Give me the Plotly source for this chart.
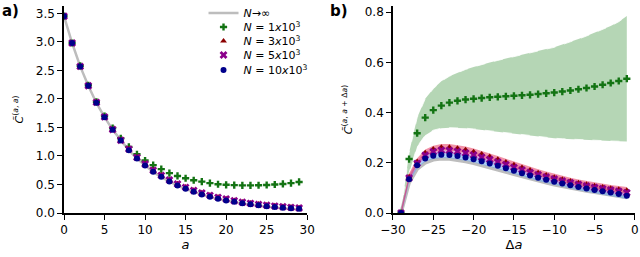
import plotly.graph_objects as go

# ---------------- data ----------------
a_vals = list(range(0, 30))
c_inf_a = [3.45, 2.98, 2.57, 2.23, 1.93, 1.68, 1.46, 1.27, 1.10, 0.955, 0.83, 0.72, 0.63, 0.55, 0.48,
           0.42, 0.37, 0.32, 0.28, 0.245, 0.215, 0.19, 0.165, 0.145, 0.128, 0.112, 0.098, 0.086, 0.076, 0.067]
c_1k_a = [3.45, 2.98, 2.58, 2.24, 1.95, 1.70, 1.49, 1.31, 1.16, 1.03, 0.92, 0.84, 0.77, 0.70, 0.65,
          0.61, 0.575, 0.55, 0.525, 0.505, 0.495, 0.49, 0.485, 0.485, 0.487, 0.492, 0.50, 0.51, 0.525, 0.545]
c_3k_a = [3.45, 2.98, 2.57, 2.23, 1.94, 1.685, 1.465, 1.28, 1.125, 0.98, 0.865, 0.755, 0.665, 0.585, 0.515,
          0.455, 0.40, 0.355, 0.315, 0.28, 0.25, 0.22, 0.195, 0.175, 0.157, 0.141, 0.127, 0.115, 0.104, 0.095]
c_5k_a = [3.45, 2.98, 2.57, 2.23, 1.94, 1.685, 1.465, 1.275, 1.12, 0.975, 0.86, 0.75, 0.66, 0.58, 0.51,
          0.45, 0.395, 0.35, 0.31, 0.275, 0.245, 0.215, 0.19, 0.17, 0.152, 0.136, 0.122, 0.11, 0.099, 0.09]
c_10k_a = [3.45, 2.98, 2.57, 2.23, 1.935, 1.68, 1.46, 1.27, 1.10, 0.955, 0.835, 0.725, 0.635, 0.555, 0.485,
           0.425, 0.372, 0.327, 0.287, 0.252, 0.222, 0.196, 0.173, 0.153, 0.135, 0.12, 0.106, 0.094, 0.083, 0.074]

da_vals = list(range(-29, 0))
c_inf_b = [0, 0.12, 0.175, 0.2, 0.212, 0.216, 0.215, 0.211, 0.205, 0.198, 0.19, 0.181, 0.172, 0.163, 0.154,
           0.145, 0.136, 0.128, 0.12, 0.113, 0.106, 0.1, 0.094, 0.088, 0.083, 0.078, 0.073, 0.068, 0.062]
c_1k_b = [0, 0.215, 0.318, 0.38, 0.41, 0.428, 0.44, 0.447, 0.452, 0.455, 0.458, 0.461, 0.463, 0.465, 0.467,
          0.469, 0.471, 0.474, 0.477, 0.480, 0.484, 0.488, 0.493, 0.498, 0.504, 0.511, 0.518, 0.526, 0.535]
c_1k_b_hi = [0, 0.24, 0.38, 0.455, 0.495, 0.525, 0.545, 0.56, 0.572, 0.582, 0.592, 0.60, 0.608, 0.616, 0.624,
             0.632, 0.639, 0.646, 0.653, 0.660, 0.670, 0.681, 0.693, 0.705, 0.718, 0.731, 0.745, 0.762, 0.785]
c_1k_b_lo = [0, 0.16, 0.265, 0.31, 0.33, 0.338, 0.34, 0.34, 0.338, 0.335, 0.331, 0.327, 0.323, 0.319, 0.315,
             0.311, 0.307, 0.304, 0.301, 0.298, 0.296, 0.294, 0.292, 0.290, 0.289, 0.288, 0.287, 0.286, 0.285]
c_3k_b = [0, 0.145, 0.205, 0.240, 0.255, 0.262, 0.262, 0.258, 0.252, 0.244, 0.235, 0.225, 0.214, 0.203, 0.192,
          0.181, 0.171, 0.161, 0.152, 0.143, 0.135, 0.128, 0.121, 0.115, 0.109, 0.104, 0.099, 0.095, 0.091]
c_5k_b = [0, 0.14, 0.198, 0.23, 0.244, 0.25, 0.249, 0.245, 0.239, 0.231, 0.222, 0.213, 0.203, 0.193, 0.182,
          0.172, 0.162, 0.153, 0.144, 0.136, 0.128, 0.121, 0.114, 0.108, 0.102, 0.097, 0.092, 0.087, 0.081]
c_10k_b = [0, 0.135, 0.19, 0.217, 0.228, 0.232, 0.231, 0.227, 0.221, 0.214, 0.206, 0.197, 0.188, 0.178, 0.168,
           0.159, 0.150, 0.141, 0.133, 0.125, 0.118, 0.111, 0.104, 0.098, 0.092, 0.087, 0.082, 0.076, 0.069]
band_halfwidth_b = 0.013

x_ticks_a = [0, 5, 10, 15, 20, 25, 30]
y_ticks_a = [0.0, 0.5, 1.0, 1.5, 2.0, 2.5, 3.0, 3.5]
x_ticks_b = [-30, -25, -20, -15, -10, -5, 0]
y_ticks_b = [0.0, 0.2, 0.4, 0.6, 0.8]

names = ["<i>N</i>→∞", "<i>N</i> = 1<i>x</i>10<sup>3</sup>", "<i>N</i> = 3<i>x</i>10<sup>3</sup>",
         "<i>N</i> = 5<i>x</i>10<sup>3</sup>", "<i>N</i> = 10<i>x</i>10<sup>3</sup>"]

GREY = "#bdbdbd"
GREEN = "#137313"
RED = "#8b0000"
PURPLE = "#8b008b"
BLUE = "#00008b"

fig = go.Figure()

# ---------- panel a ----------
fig.add_trace(go.Scatter(x=a_vals, y=c_inf_a, mode="lines", line=dict(color=GREY, width=2.5),
                         name=names[0], xaxis="x", yaxis="y", legend="legend"))
fig.add_trace(go.Scatter(x=a_vals, y=c_1k_a, mode="markers", name=names[1], xaxis="x", yaxis="y",
                         marker=dict(symbol="cross", size=6, color=GREEN), legend="legend2"))
fig.add_trace(go.Scatter(x=a_vals, y=c_3k_a, mode="markers", name=names[2], xaxis="x", yaxis="y",
                         marker=dict(symbol="triangle-up", size=6, color=RED), legend="legend3"))
fig.add_trace(go.Scatter(x=a_vals, y=c_5k_a, mode="markers", name=names[3], xaxis="x", yaxis="y",
                         marker=dict(symbol="x", size=7, color=PURPLE), legend="legend4"))
fig.add_trace(go.Scatter(x=a_vals, y=c_10k_a, mode="markers", name=names[4], xaxis="x", yaxis="y",
                         marker=dict(symbol="circle", size=6, color=BLUE), legend="legend5"))

# ---------- panel b ----------
def band(lo, hi, fill, edge="rgba(0,0,0,0)", dash="solid"):
    fig.add_trace(go.Scatter(x=da_vals, y=lo, mode="lines", line=dict(color=edge, width=1, dash=dash),
                             xaxis="x2", yaxis="y2", showlegend=False, hoverinfo="skip"))
    fig.add_trace(go.Scatter(x=da_vals, y=hi, mode="lines", line=dict(color=edge, width=1, dash=dash),
                             fill="tonexty", fillcolor=fill, xaxis="x2", yaxis="y2",
                             showlegend=False, hoverinfo="skip"))

band(c_1k_b_lo, c_1k_b_hi, "rgba(120,180,120,0.55)", edge="rgba(255,255,255,0.8)", dash="dash")
fig.add_trace(go.Scatter(x=da_vals, y=c_inf_b, mode="lines", line=dict(color=GREY, width=3.5),
                         xaxis="x2", yaxis="y2", showlegend=False))
band([v - band_halfwidth_b for v in c_10k_b], [v + band_halfwidth_b for v in c_10k_b], "rgba(110,170,240,0.55)")
band([v - band_halfwidth_b for v in c_5k_b], [v + band_halfwidth_b for v in c_5k_b], "rgba(200,80,200,0.35)")
band([v - band_halfwidth_b for v in c_3k_b], [v + band_halfwidth_b for v in c_3k_b], "rgba(230,40,80,0.5)")

fig.add_trace(go.Scatter(x=da_vals, y=c_1k_b, mode="markers", xaxis="x2", yaxis="y2", showlegend=False,
                         marker=dict(symbol="cross", size=6, color=GREEN)))
fig.add_trace(go.Scatter(x=da_vals, y=c_3k_b, mode="markers", xaxis="x2", yaxis="y2", showlegend=False,
                         marker=dict(symbol="triangle-up", size=6, color=RED)))
fig.add_trace(go.Scatter(x=da_vals, y=c_5k_b, mode="markers", xaxis="x2", yaxis="y2", showlegend=False,
                         marker=dict(symbol="x", size=7, color=PURPLE)))
fig.add_trace(go.Scatter(x=da_vals, y=c_10k_b, mode="markers", xaxis="x2", yaxis="y2", showlegend=False,
                         marker=dict(symbol="circle", size=6, color=BLUE)))

axis_common = dict(showgrid=False, zeroline=False, showline=True, linecolor="black", linewidth=1.5,
                   ticks="outside", ticklen=5, tickwidth=1.2, tickcolor="black", automargin=False,
                   tickfont=dict(family="DejaVu Sans", size=12, color="black"))

legend_y_px = [13, 27, 41, 55, 70]
legend_common = dict(x=0.318, xanchor="left", yanchor="middle", bgcolor="rgba(0,0,0,0)",
                     font=dict(family="DejaVu Sans", size=11), itemwidth=30)
legends = {}
for i, ypx in enumerate(legend_y_px):
    key = "legend" if i == 0 else f"legend{i + 1}"
    legends[key] = dict(y=1 - ypx / 257, **legend_common)

fig.update_layout(
    width=640, height=257,
    margin=dict(l=0, r=0, t=0, b=0, autoexpand=False),
    paper_bgcolor="white", plot_bgcolor="white",
    font=dict(family="DejaVu Sans", color="black"),
    showlegend=True,
    xaxis=dict(domain=[0.1, 0.48], range=[0, 30], tickvals=x_ticks_a, anchor="y",
               title=dict(text="<i>a</i>", font=dict(size=13), standoff=3), **axis_common),
    yaxis=dict(domain=[0.171, 0.977], range=[0, 3.63], tickvals=y_ticks_a, tickformat=".1f", anchor="x",
               title=dict(text="<i>C̃</i><sup>(<i>a</i>, <i>a</i>)</sup>", font=dict(size=11), standoff=10),
               **axis_common),
    xaxis2=dict(domain=[0.614, 0.992], range=[-30, 0], tickvals=x_ticks_b, anchor="y2",
                title=dict(text="Δ<i>a</i>", font=dict(size=13), standoff=3), **axis_common),
    yaxis2=dict(domain=[0.171, 0.977], range=[0, 0.825], tickvals=y_ticks_b, tickformat=".1f", anchor="x2",
                title=dict(text="<i>C̃</i><sup>(<i>a</i>, <i>a</i> + Δ<i>a</i>)</sup>", font=dict(size=11), standoff=10),
                **axis_common),
    annotations=[
        dict(text="<b>a)</b>", x=0.0, y=1.0, xref="paper", yref="paper", xanchor="left", yanchor="top",
             showarrow=False, font=dict(size=15, family="DejaVu Sans")),
        dict(text="<b>b)</b>", x=0.513, y=1.0, xref="paper", yref="paper", xanchor="left", yanchor="top",
             showarrow=False, font=dict(size=15, family="DejaVu Sans")),
    ],
    **legends,
)

fig.write_html("out.html", config={"displayModeBar": False},
               post_script="document.body.style.margin='0';")
